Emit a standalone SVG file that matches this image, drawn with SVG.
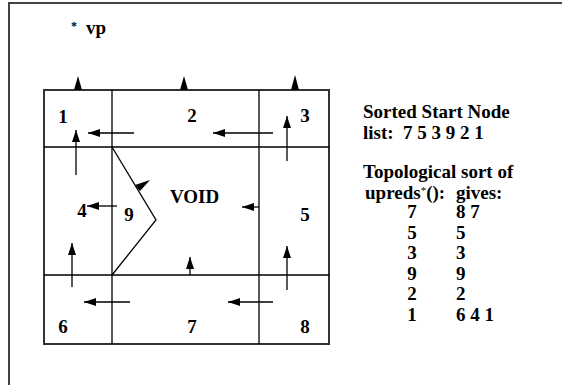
<svg xmlns="http://www.w3.org/2000/svg" width="562" height="385" viewBox="0 0 562 385">
<style>
text{font-family:"Liberation Serif","Times New Roman",serif;font-weight:bold;font-size:19px;fill:#000}
.c{text-anchor:middle}
.frame{stroke:#444;stroke-width:2;fill:none}
.outer{stroke:#333;stroke-width:2;fill:none}
.grid{stroke:#000;stroke-width:1.3;fill:none}
.arr{stroke:#000;stroke-width:1.3;fill:none;marker-end:url(#ah)}
.head{fill:#000;stroke:none}
</style>
<defs>
<marker id="ah" markerUnits="userSpaceOnUse" markerWidth="12" markerHeight="8" refX="12" refY="4" orient="auto">
<path d="M0,0 L12,4 L0,8 z" fill="#000"/>
</marker>
</defs>
<rect width="562" height="385" fill="#fff"/>
<path class="frame" d="M9,385 L9,3 L562,3"/>
<text x="74" y="30" class="c" style="font-size:12px">*</text>
<text x="86" y="34">vp</text>
<g id="grid">
<rect class="outer" x="44" y="90" width="285" height="254"/>
<path class="grid" d="M112,90 V344 M259,90 V344 M44,147 H329 M44,275 H329"/>
</g>
<g id="n1"><text x="63" y="123" class="c">1</text></g>
<g id="n2"><text x="192" y="122" class="c">2</text></g>
<g id="n3"><text x="305" y="122" class="c">3</text></g>
<g id="n4"><text x="82" y="217" class="c">4</text></g>
<g id="n9"><path class="grid" d="M112,147 L156,220 L112,275"/><text x="129" y="221" class="c">9</text></g>
<g id="void"><text x="170" y="203">VOID</text></g>
<g id="n5"><text x="305" y="221" class="c">5</text></g>
<g id="n6"><text x="63" y="333" class="c">6</text></g>
<g id="n7"><text x="192" y="333" class="c">7</text></g>
<g id="n8"><text x="305" y="333" class="c">8</text></g>
<g id="connectors">
<path class="arr" d="M134,133 H88"/>
<path class="arr" d="M273,133 H213"/>
<path class="arr" d="M76,175 V130"/>
<path class="arr" d="M287,161 V116"/>
<path class="arr" d="M117,206 H87"/>
<path class="arr" d="M259,207 H242"/>
<path class="arr" d="M190,275 V257"/>
<path class="arr" d="M72,287 V243"/>
<path class="arr" d="M130,302 H84"/>
<path class="arr" d="M273,302 H228"/>
<path class="arr" d="M287,290 V246"/>
<polygon class="head" points="74,90 82,90 78,76"/>
<polygon class="head" points="180,90 188,90 184,76"/>
<polygon class="head" points="291,90 299,90 295,75"/>
<polygon class="head" points="135,185 140,191 150,180"/>
</g>
<g id="legend">
<text x="363" y="118">Sorted Start Node</text>
<text x="363" y="139" xml:space="preserve">list:  7 5 3 9 2 1</text>
<text x="363" y="178">Topological sort of</text>
<text x="365" y="199">upreds<tspan style="font-size:11px;font-weight:normal" dy="-5">*</tspan><tspan dy="5">():</tspan></text>
<text x="456" y="199">gives:</text>
<text x="412" y="218" class="c">7</text><text x="456" y="218">8 7</text>
<text x="412" y="238.5" class="c">5</text><text x="456" y="238.5">5</text>
<text x="412" y="259" class="c">3</text><text x="456" y="259">3</text>
<text x="412" y="279.5" class="c">9</text><text x="456" y="279.5">9</text>
<text x="412" y="300" class="c">2</text><text x="456" y="300">2</text>
<text x="412" y="320.5" class="c">1</text><text x="456" y="320.5">6 4 1</text>
</g>
</svg>
